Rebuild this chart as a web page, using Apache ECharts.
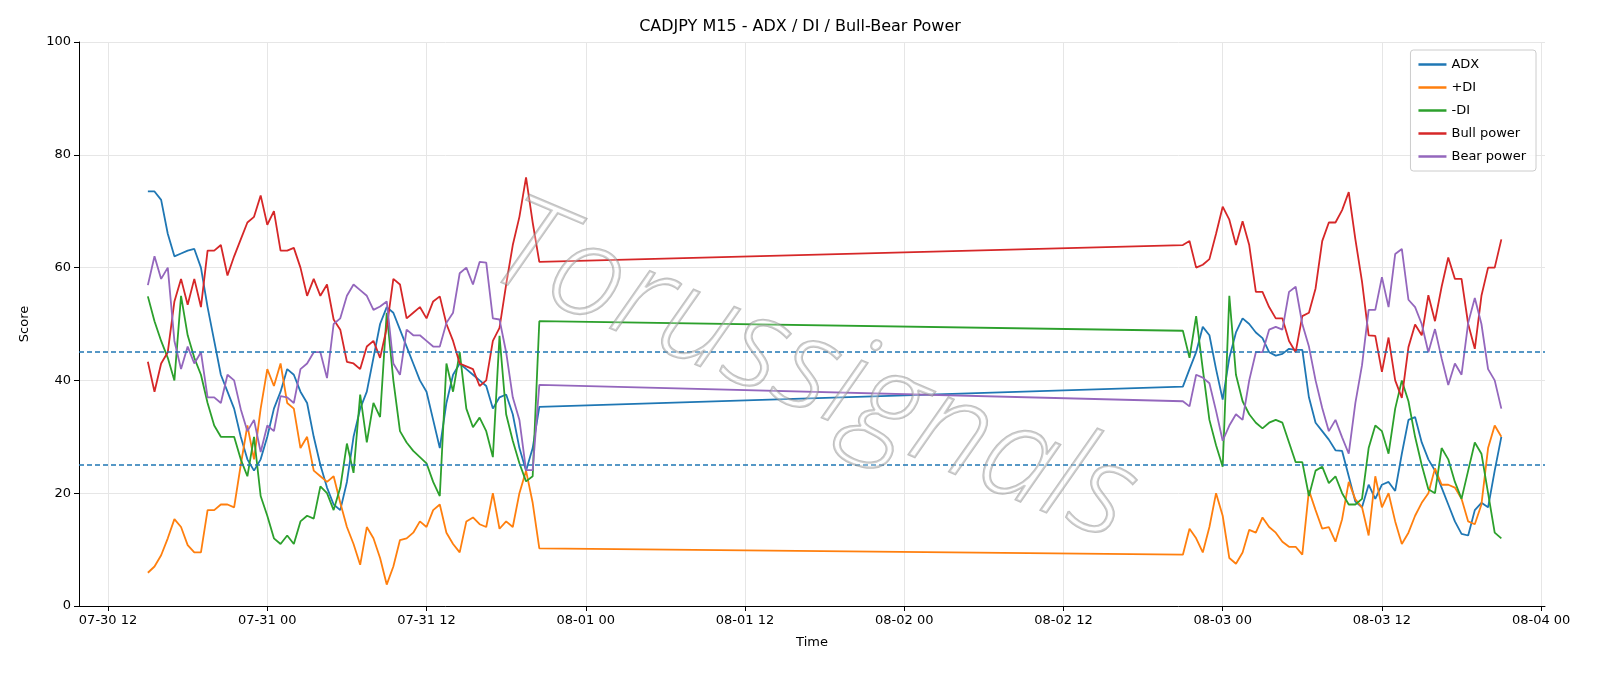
<!DOCTYPE html>
<html><head><meta charset="utf-8">
<script src="https://cdn.jsdelivr.net/npm/echarts@6/dist/echarts.min.js"></script>
<style>html,body{margin:0;padding:0;background:#fff}#c{width:1600px;height:686px}</style>
</head><body><div id="c"></div>
<script>
// hours since 07-30 00:00; two segments at 30-min steps
const seg1Start = 15, seg1Count = 60;   // 07-30 15:00 .. 07-31 20:30
const seg2Start = 93, seg2Count = 49;   // 08-02 21:00 .. 08-03 21:00
const xTickHours = [12, 24, 36, 48, 60, 72, 84, 96, 108, 120];
const xTickLabels = ["07-30 12","07-31 00","07-31 12","08-01 00","08-01 12","08-02 00","08-02 12","08-03 00","08-03 12","08-04 00"];

const adx1 = [73.5,73.5,72,66,62,62.5,63,63.3,60,53,47,41,38,35,30,26,24,26,30,35,38,42,41,38,36,30,25,21,18,17,22,30,35,38,44,50,53,52,49,46,43,40,38,33,28,36,41,43,42,41,40,39,35,37,37.5,34,28,24,28,35.3];
const adx2 = [38.9,42,45,49.5,48,42,36.6,44,48.5,51,50,48.5,47.5,45,44.4,44.7,45.6,45.4,45.4,37,32.5,31,29.5,27.6,27.5,23,18.5,17.5,21.5,19,21.5,22,20.4,27,33,33.5,29,26,24,21,18,15,12.8,12.5,17,18.3,17.5,24,30];
const pdi1 = [5.9,7,9,12,15.4,14,10.8,9.5,9.5,17,17,18,18,17.5,25,32,26,35,42,39,43,36,35,28,30,24,23,22,23,18.3,14,11,7.3,14,12,8.5,3.8,7,11.7,12,13,15,14,17,18,13,11,9.5,15,15.7,14.5,14,20,13.7,15,14,20,24,18.3,10.2];
const pdi2 = [9.1,13.7,12,9.5,14,20,16,8.5,7.5,9.5,13.5,13,15.7,14,13,11.4,10.5,10.5,9.1,20.5,17,13.7,14,11.4,15.4,22,18.9,17.5,12.5,23,17.5,20,15,11,13,16,18.3,20,24.4,21.5,21.5,21,19,15,14.5,18,28,32,30];
const mdi1 = [54.9,50.5,47,44,40,55,48,44,41,36,32,30,30,30,26,23,30,19.5,16,12,11,12.5,11,15,16,15.5,21.2,20,17,21,28.8,23.6,37.5,29,36,33.5,52,40,31,29,27.5,26.4,25.3,22,19.5,43,38,45,35,31.7,33.4,31,26.4,47.9,34,29.3,25.3,22.1,23,50.5];
const mdi2 = [48.8,44,51.4,42,33,28.5,24.7,55,41,36.3,34,32.5,31.5,32.5,33,32.5,29,25.5,25.5,19.5,24,24.7,21.8,23,20,18,18,19,28,32,31,27,35,40,36.3,30,25,20.7,20,28,26,22,19,24,29,27,20,13,12];
const bull1 = [43.3,38,43,45,54,58,53.4,58,53,63,63,64,58.6,62,65,68,69,72.8,67.6,70,63,63,63.5,60,55,58,55,57,50.8,49,43.3,43,42,46,47,44,49.3,58,57,51,52,53,51,54,54.9,50,47,43,42.5,42,39,40,47,49.3,57,64,69,76,68,61];
const bull2 = [64,64.7,60,60.5,61.5,66,70.8,68.5,64,68.2,64,55.7,55.7,53,51,51,47,45,51.4,52,56.3,64.7,68,68,70.2,73.4,65,57.5,48,47.9,41.5,47.6,40,36.9,45.9,49.9,48,55.1,50.5,56.6,61.8,58,58,50,45.6,55,60,60,65];
const bear1 = [56.9,62,58,60,47,42,46,43,45,37,37,36,41,40,34.9,31,33,27.3,32,31,37.2,37,36,42,43,45,45,40.4,50,51,55,57,56,55,52.5,53.1,54,43,41,49,48,48,47,46,46,50.2,52,59,60,57,61,60.9,51,50.8,45,37,33,24.1,24.1,39.2];
const bear2 = [36.3,35.4,41,40.5,39.5,34.6,29.3,32,34,33,40,45,45,49,49.5,49,55.7,56.6,50,46,40,35.1,31,33,29.9,27,36,42.7,52.5,52.5,58.3,53,62.4,63.3,54.3,53,50,45,49.1,43.9,39.2,43,41,50.2,54.6,50,42,40,35];

function build(a, b) {
  const out = [];
  a.forEach((v, i) => out.push([seg1Start + i * 0.5, v]));
  b.forEach((v, i) => out.push([seg2Start + i * 0.5, v]));
  return out;
}
const names = ["ADX", "+DI", "-DI", "Bull power", "Bear power"];
const colors = ["#1f77b4", "#ff7f0e", "#2ca02c", "#d62728", "#9467bd"];
const datas = [build(adx1, adx2), build(pdi1, pdi2), build(mdi1, mdi2), build(bull1, bull2), build(bear1, bear2)];

const series = names.map((n, i) => ({
  name: n, type: 'line', data: datas[i], showSymbol: false, symbol: 'none',
  lineStyle: { width: 1.8, color: colors[i] }, itemStyle: { color: colors[i] }, z: 3
}));
series[0].markLine = {
  silent: true, symbol: 'none', label: { show: false },
  lineStyle: { type: [5, 3], color: '#1f77b4', width: 1.5 },
  data: [{ yAxis: 45 }, { yAxis: 25 }]
};

const chart = echarts.init(document.getElementById('c'));
chart.setOption({
  animation: false,
  backgroundColor: '#fff',
  title: { text: 'CADJPY M15 - ADX / DI / Bull-Bear Power', left: 'center', top: 14,
    textStyle: { fontFamily: 'DejaVu Sans', fontSize: 16, fontWeight: 'normal', color: '#000' } },
  legend: {
    orient: 'vertical', right: 64, top: 50, data: names,
    icon: 'rect', itemWidth: 28, itemHeight: 2.5, itemGap: 10,
    backgroundColor: 'rgba(255,255,255,0.8)', borderColor: '#ccc', borderWidth: 1, borderRadius: 3,
    padding: [8, 10, 8, 8],
    textStyle: { fontFamily: 'DejaVu Sans', fontSize: 13, color: '#000' }
  },
  grid: { left: 79, right: 55, top: 42, bottom: 80 },
  xAxis: {
    type: 'value', min: 9.81, max: 120.29,
    name: 'Time', nameLocation: 'middle', nameGap: 30,
    nameTextStyle: { fontFamily: 'DejaVu Sans', fontSize: 13, color: '#000' },
    axisLine: { onZero: false, lineStyle: { color: '#000' } },
    axisTick: { customValues: xTickHours, length: 5, lineStyle: { color: '#000' } },
    axisLabel: { customValues: xTickHours, color: '#000', fontFamily: 'DejaVu Sans', fontSize: 13,
      formatter: v => { const i = xTickHours.indexOf(Math.round(v)); return i >= 0 ? xTickLabels[i] : ''; } },
    splitLine: { show: true, lineStyle: { color: '#e6e6e6' } }
  },
  yAxis: {
    type: 'value', min: 0, max: 100, interval: 20,
    name: 'Score', nameLocation: 'middle', nameGap: 48,
    nameTextStyle: { fontFamily: 'DejaVu Sans', fontSize: 13, color: '#000' },
    axisLine: { show: true, lineStyle: { color: '#000' } },
    axisTick: { show: true, length: 5, lineStyle: { color: '#000' } },
    axisLabel: { color: '#000', fontFamily: 'DejaVu Sans', fontSize: 13 },
    splitLine: { show: true, lineStyle: { color: '#e6e6e6' } }
  },
  graphic: [{
    type: 'text', left: 470, top: 180, rotation: -0.40, z: 10, silent: true,
    style: { text: 'Torussignals', font: 'italic 300 128px "Open Sans"', fill: 'rgba(255,255,255,0.25)',
      stroke: 'rgba(140,140,140,0.55)', lineWidth: 2.2 }
  }],
  series: series
});
</script></body></html>
